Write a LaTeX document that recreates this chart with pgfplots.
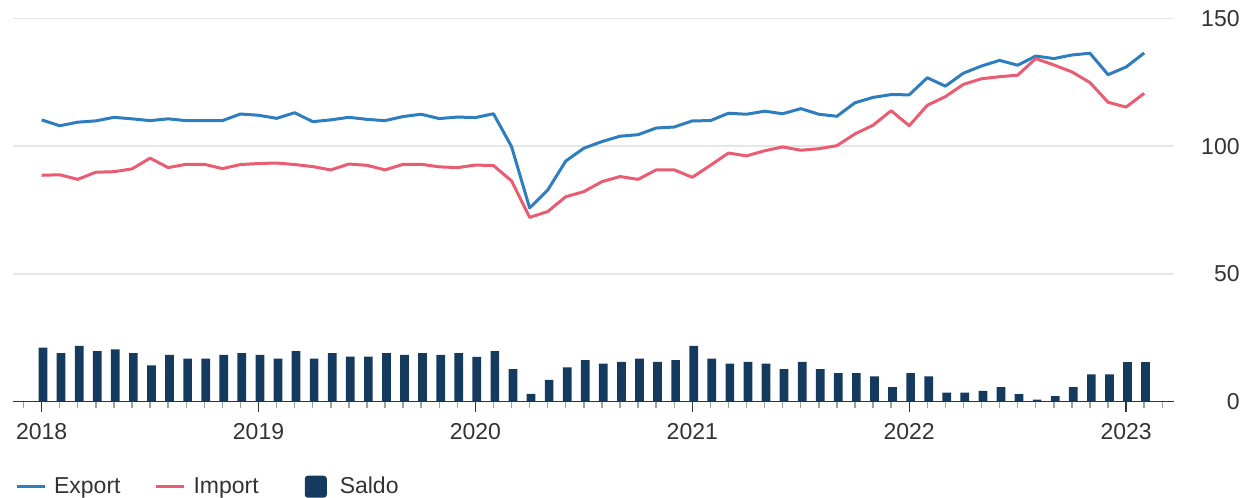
\documentclass[border=0pt]{standalone}
\usepackage{fontspec}
\setmainfont{Liberation Sans}
\usepackage{pgfplots}
\pgfplotsset{compat=1.18}
\usepackage{pgfplotstable}
\definecolor{expblue}{RGB}{46,125,190}
\definecolor{impred}{RGB}{234,92,114}
\definecolor{saldoc}{RGB}{20,58,94}
\definecolor{txt}{RGB}{51,51,51}
\definecolor{gridc}{RGB}{230,230,230}
\definecolor{minc}{RGB}{160,160,160}

\pgfplotstableread{
i exp imp sal
0 110.3 88.6 21.1
1 108.0 88.8 18.9
2 109.4 87.0 21.8
3 109.9 89.8 19.7
4 111.3 90.0 20.4
5 110.7 91.1 18.9
6 110.0 95.3 14.1
7 110.7 91.6 18.3
8 110.0 92.9 16.8
9 110.0 92.9 16.8
10 110.0 91.2 18.3
11 112.6 92.8 18.9
12 112.1 93.2 18.3
13 110.9 93.4 16.8
14 113.1 92.8 19.7
15 109.6 92.0 16.8
16 110.3 90.7 18.9
17 111.3 93.0 17.6
18 110.5 92.5 17.6
19 110.0 90.7 18.9
20 111.6 92.9 18.3
21 112.5 92.9 18.9
22 110.8 91.9 18.3
23 111.4 91.6 18.9
24 111.2 92.6 17.5
25 112.7 92.4 19.7
26 99.8 86.4 12.7
27 75.8 72.1 3.0
28 82.8 74.4 8.5
29 94.2 80.2 13.4
30 99.2 82.2 16.2
31 101.8 86.1 14.8
32 103.9 88.1 15.5
33 104.5 87.0 16.8
34 107.1 90.7 15.5
35 107.5 90.7 16.2
36 109.9 87.8 21.8
37 110.0 92.5 16.8
38 112.9 97.3 14.8
39 112.5 96.2 15.5
40 113.7 98.2 14.8
41 112.7 99.7 12.7
42 114.7 98.4 15.5
43 112.5 99.0 12.7
44 111.7 100.2 11.1
45 117.0 104.8 11.1
46 119.1 108.2 9.8
47 120.2 113.9 5.6
48 120.1 108.0 11.1
49 126.8 116.0 9.8
50 123.5 119.4 3.5
51 128.6 124.2 3.5
52 131.4 126.4 4.2
53 133.6 127.2 5.6
54 131.7 127.8 2.9
55 135.3 134.3 0.7
56 134.3 131.8 2.1
57 135.7 129.1 5.6
58 136.4 124.9 10.6
59 128.0 117.2 10.6
60 131.0 115.3 15.4
61 136.5 120.7 15.4
}\data

\begin{document}
\begin{tikzpicture}
\begin{axis}[
  scale only axis, width=580.65pt, height=191.5pt,
  xmin=-1.6, xmax=62.65, ymin=0, ymax=150,
  axis x line*=bottom, axis y line*=right,
  x axis line style={draw=txt, line width=0.7pt, -},
  y axis line style={draw=none},
  xtick={0,12,24,36,48,60},
  xticklabels={2018,2019,2020,2021,2022,2023},
  minor xtick={-1,1,2,3,4,5,6,7,8,9,10,11,13,14,15,16,17,18,19,20,21,22,23,25,26,27,28,29,30,31,32,33,34,35,37,38,39,40,41,42,43,44,45,46,47,49,50,51,52,53,54,55,56,57,58,59,61,62},
  tick align=outside,
  major tick length=5pt, minor tick length=3pt,
  every major x tick/.append style={draw=txt, line width=0.7pt},
  every minor x tick/.append style={draw=minc, line width=0.7pt},
  ytick={0,50,100,150},
  ytick style={draw=none},
  ymajorgrids, grid style={draw=gridc, line width=0.7pt},
  /pgf/number format/assume math mode=true,
  ticklabel style={font=\fontsize{11.5}{13}\selectfont, text=txt},
  xticklabel style={yshift=-2.5pt},
  yticklabel style={anchor=east, inner sep=0pt, xshift=28pt},
  clip=false,
  legend style={at={(0,0)}, anchor=west, yshift=-42.6pt, draw=none, fill=none,
    inner xsep=0pt, inner ysep=0pt, legend columns=3, font=\fontsize{11.5}{13}\selectfont, text=txt,
    /tikz/every even column/.append style={column sep=15pt}},
  legend cell align=left,
]
\addplot[expblue, line width=1.5pt, line join=round,
  legend image code/.code={\path (-1pt,0pt) (16pt,0pt); \draw[expblue, line width=1.5pt] (0pt,0pt) -- (14pt,0pt);}]
  table[x=i, y=exp]{\data};
\addlegendentry{Export}
\addplot[impred, line width=1.5pt, line join=round,
  legend image code/.code={\path (0pt,0pt) (16pt,0pt); \draw[impred, line width=1.5pt] (0pt,0pt) -- (14pt,0pt);}]
  table[x=i, y=imp]{\data};
\addlegendentry{Import}
\addplot[ybar, bar width=4.35pt, bar shift=0.7pt, fill=saldoc, draw=none,
  legend image code/.code={\path (0pt,0pt) (21.5pt,0pt); \fill[saldoc, rounded corners=1.5pt] (6pt,-5.5pt) rectangle (17pt,5.5pt);}]
  table[x=i, y=sal]{\data};
\addlegendentry{Saldo}
\end{axis}
\pgfresetboundingbox
\path (-6.35pt,-47.75pt) rectangle (616.15pt,200.75pt);
\end{tikzpicture}
\end{document}
